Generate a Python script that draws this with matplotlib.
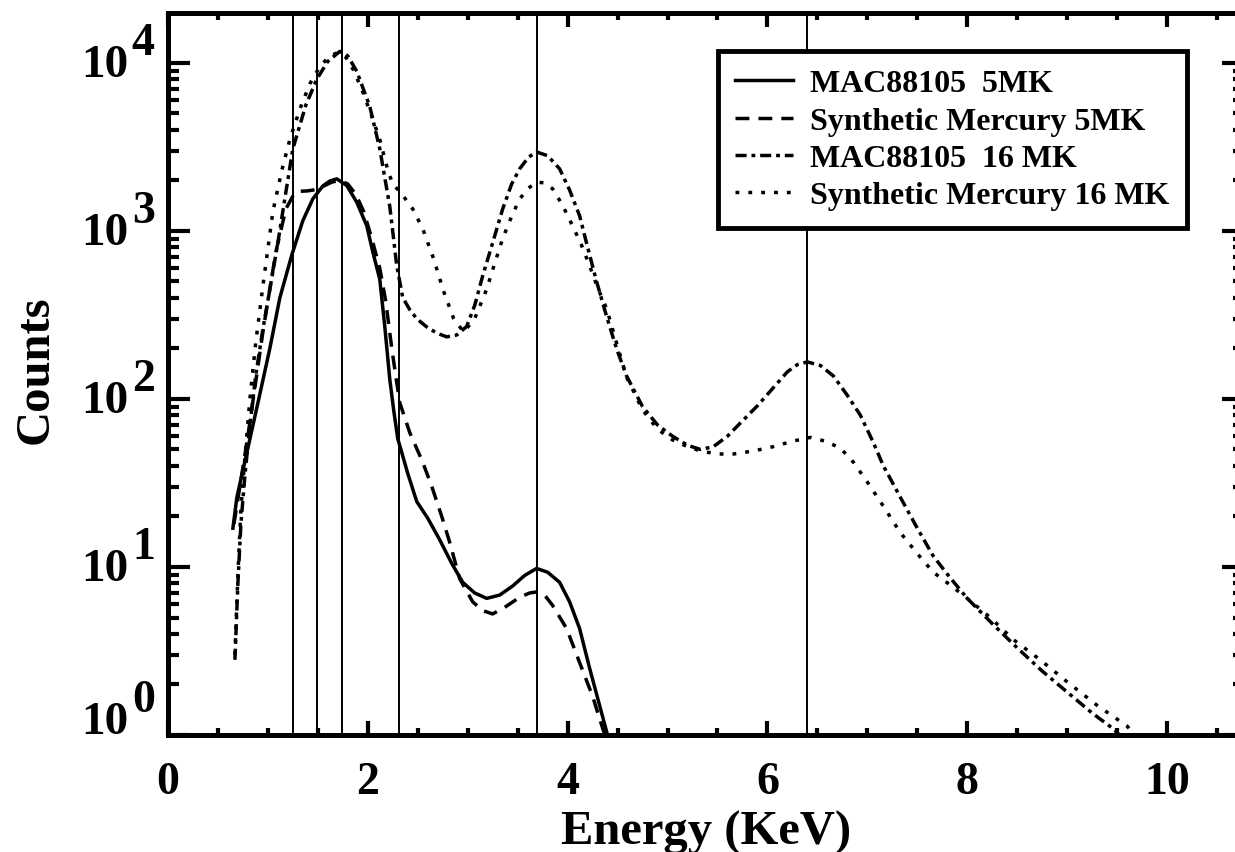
import numpy as np
import matplotlib
matplotlib.use("Agg")
import matplotlib.pyplot as plt
import matplotlib.transforms as mtransforms
from matplotlib.ticker import FixedLocator, MultipleLocator, LogLocator, NullFormatter

plt.rcParams['font.family'] = ['Liberation Serif', 'DejaVu Serif']
plt.rcParams['font.weight'] = 'bold'

# energy (keV) / counts
e_mac5 = [0.65, 0.69, 0.80, 0.92, 1.02, 1.12, 1.24, 1.35, 1.45, 1.55, 1.62, 1.69, 1.79, 1.89, 1.99,
          2.05, 2.12, 2.17, 2.22, 2.26, 2.30, 2.34, 2.40, 2.49, 2.60, 2.72, 2.84, 2.95, 3.07, 3.19,
          3.32, 3.45, 3.57, 3.69, 3.80, 3.92, 4.02, 4.12, 4.22, 4.32, 4.42]
c_mac5 = [17, 26, 51, 107, 200, 400, 720, 1150, 1550, 1850, 1980, 2040, 1860, 1480, 1070,
          750, 515, 270, 131, 85, 58, 48, 36, 24.5, 19.5, 14.5, 10.5, 8.1, 7.0, 6.5,
          6.8, 7.7, 8.9, 9.8, 9.3, 8.1, 6.2, 4.3, 2.5, 1.5, 0.9]

e_syn5 = [0.66, 0.80, 0.95, 1.08, 1.18, 1.26, 1.32, 1.40, 1.48, 1.56, 1.64, 1.72, 1.80, 1.88, 1.96,
          2.04, 2.12, 2.18, 2.24, 2.29, 2.32, 2.42, 2.55, 2.65, 2.74, 2.82, 2.92, 3.05, 3.15, 3.25,
          3.38, 3.52, 3.62, 3.69, 3.77, 3.85, 3.99, 4.12, 4.25, 4.35, 4.40]
c_syn5 = [18, 60, 250, 750, 1350, 1650, 1720, 1730, 1760, 1850, 1950, 2000, 1900, 1650, 1300,
          900, 600, 380, 200, 125, 95, 63, 42, 29, 20, 14, 8.5, 6.2, 5.5, 5.25,
          5.8, 6.6, 7.0, 7.1, 6.8, 5.9, 4.3, 2.7, 1.7, 1.1, 0.9]

e_mac16 = [0.67, 0.70, 0.73, 0.77, 0.82, 0.88, 0.95, 1.02, 1.10, 1.18, 1.25, 1.38, 1.49, 1.60, 1.72,
           1.80, 1.89, 2.02, 2.12, 2.22, 2.29, 2.35, 2.42, 2.49, 2.60, 2.70, 2.79, 2.89, 2.99, 3.07,
           3.15, 3.25, 3.35, 3.44, 3.52, 3.61, 3.69, 3.80, 3.92, 4.02, 4.12, 4.20, 4.29, 4.39, 4.49,
           4.59, 4.75, 4.90, 5.05, 5.20, 5.33, 5.46, 5.60, 5.75, 5.90, 6.05, 6.20, 6.30, 6.40, 6.53,
           6.66, 6.80, 6.93, 7.06, 7.16, 7.33, 7.50, 7.66, 7.83, 8.00, 8.25, 8.50, 8.75, 9.00, 9.25,
           9.46, 9.60]
c_mac16 = [2.8, 8, 18, 35, 70, 140, 260, 450, 850, 1700, 3080, 5600, 8000, 10200, 11700,
           11000, 8900, 5500, 3080, 1400, 620, 400, 340, 300, 265, 245, 234, 240, 270, 360,
           540, 850, 1350, 1900, 2340, 2750, 2950, 2800, 2340, 1750, 1230, 800, 500, 310, 199,
           137, 90, 70, 60, 53, 50, 52, 60, 74, 91, 115, 145, 160, 166, 158,
           137, 105, 80, 55, 40, 26, 17, 11.6, 8.6, 6.5, 4.6, 3.3, 2.4, 1.8, 1.35,
           1.09, 0.9]

e_syn16 = [0.67, 0.70, 0.73, 0.77, 0.82, 0.88, 0.95, 1.05, 1.14, 1.22, 1.32, 1.42, 1.52, 1.62, 1.70,
           1.78, 1.86, 1.95, 2.04, 2.12, 2.20, 2.25, 2.34, 2.45, 2.55, 2.66, 2.76, 2.86, 2.96, 3.07,
           3.19, 3.27, 3.35, 3.44, 3.52, 3.61, 3.69, 3.77, 3.85, 3.95, 4.05, 4.14, 4.22, 4.30, 4.39,
           4.49, 4.59, 4.75, 4.90, 5.05, 5.20, 5.33, 5.50, 5.66, 5.86, 6.06, 6.25, 6.43, 6.58, 6.73,
           6.86, 7.00, 7.16, 7.33, 7.50, 7.66, 7.83, 8.00, 8.23, 8.46, 8.73, 9.00, 9.30, 9.60, 9.70]
c_syn16 = [3.0, 9, 22, 45, 100, 220, 470, 1300, 2300, 3500, 5300, 7500, 9500, 11000, 11500,
           10800, 9000, 6700, 4800, 3500, 2300, 1900, 1660, 1350, 1030, 680, 435, 300, 250, 300,
           450, 640, 900, 1220, 1550, 1800, 1950, 1930, 1780, 1420, 1070, 820, 620, 460, 345,
           215, 135, 86, 66, 57, 52, 49, 47, 47, 49, 52, 56, 59, 56, 51,
           42, 32, 23, 16, 12, 9.3, 7.8, 6.5, 5.0, 3.7, 2.8, 2.07, 1.5, 1.13, 0.95]

# emission line energies (Mg, Al, Si, S, Ca, Fe)
line_energies = [1.25, 1.49, 1.74, 2.31, 3.69, 6.40]

x_ticks = [0, 2, 4, 6, 8, 10]
y_decades = [0, 1, 2, 3, 4]
series_labels = ["MAC88105  5MK", "Synthetic Mercury 5MK",
                 "MAC88105  16 MK", "Synthetic Mercury 16 MK"]

fig = plt.figure(figsize=(12.35, 8.53), dpi=100)
ax = fig.add_axes([0.136, 0.1372, 0.8713, 0.8464])
ax.set_yscale('log')
ax.set_xlim(0, 10.77)
ax.set_ylim(1, 1.98e4)

for e in line_energies:
    ax.axvline(e, color='black', lw=1.4, zorder=1)

lw = 2.5
ax.plot(e_mac5, c_mac5, color='black', lw=lw, ls='-', label=series_labels[0])
ax.plot(e_syn5, c_syn5, color='black', lw=lw, ls=(0, (4, 2.6)), label=series_labels[1])
ax.plot(e_mac16, c_mac16, color='black', lw=lw, ls=(0, (3.2, 1.4, 1.1, 1.4)), label=series_labels[2])
ax.plot(e_syn16, c_syn16, color='black', lw=lw, ls=(0, (1.1, 2.6)), label=series_labels[3])

for s in ax.spines.values():
    s.set_linewidth(3.6)

ax.xaxis.set_major_locator(FixedLocator(x_ticks))
ax.xaxis.set_minor_locator(MultipleLocator(0.5))
ax.set_xticklabels([str(t) for t in x_ticks], fontweight='bold')
ax.yaxis.set_major_locator(LogLocator(base=10, numticks=10))
ax.yaxis.set_minor_locator(LogLocator(base=10, subs=np.arange(2, 10), numticks=20))
ax.yaxis.set_major_formatter(NullFormatter())
ax.yaxis.set_minor_formatter(NullFormatter())

ax.tick_params(axis='x', which='major', direction='in', length=10, width=3,
               top=True, bottom=True, pad=18.5, labelsize=33)
ax.tick_params(axis='x', which='minor', direction='in', length=5, width=3, top=True, bottom=True)
ax.tick_params(axis='y', which='major', direction='in', length=16, width=3, left=True, right=True)
ax.tick_params(axis='y', which='minor', direction='in', length=8, width=3, left=True, right=True)

# IDL style 10^n labels: base and exponent same size
ytrans = ax.get_yaxis_transform()
for k in y_decades:
    lift = 11 if k == y_decades[0] else 0
    t1 = mtransforms.offset_copy(ytrans, fig=fig, x=-28.5, y=-1.5 + lift, units='points')
    ax.text(0, 10.0 ** k, "10", transform=t1, ha='right', va='center',
            fontsize=34, fontweight='bold')
    t2 = mtransforms.offset_copy(ytrans, fig=fig, x=-9.5, y=14 + lift, units='points')
    ax.text(0, 10.0 ** k, str(k), transform=t2, ha='right', va='center',
            fontsize=33, fontweight='bold')

ax.set_xlabel("Energy (KeV)", fontsize=35, fontweight='bold')
ax.xaxis.set_label_coords(0.5, -0.103)
ax.set_ylabel("Counts", fontsize=35, fontweight='bold')
ax.yaxis.set_label_coords(-0.103, 0.507)

leg = ax.legend(loc='upper left', bbox_to_anchor=(0.5107, 0.9467), borderaxespad=0,
                frameon=True, fancybox=False, edgecolor='black', framealpha=1,
                prop={'weight': 'bold', 'size': 23}, handlelength=1.8,
                handletextpad=0.55, labelspacing=0.25, borderpad=0.55)
leg.get_frame().set_linewidth(3.5)

fig.savefig("out.png", dpi=100)
